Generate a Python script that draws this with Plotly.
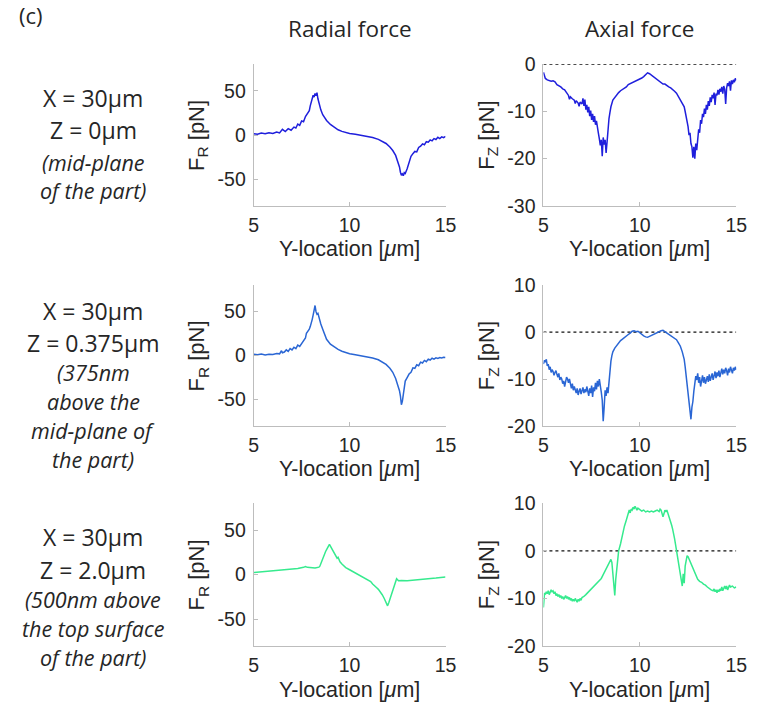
import plotly.graph_objects as go

# ---------------------------------------------------------------------------
# Data: force profiles along the Y direction (Y in um, force in pN)
# ---------------------------------------------------------------------------
y_range = [5, 15]
y_ticks = [5, 10, 15]

radial_z0 = [
    (5.0, 1.5), (5.2, 1.0), (5.4, 2.2), (5.6, 1.4), (5.8, 2.6), (6.0, 1.8), (6.2, 3.5),
    (6.35, 2.4), (6.5, 6.5), (6.65, 4.0), (6.8, 7.2), (6.95, 5.5), (7.1, 9.0), (7.2, 8.0),
    (7.3, 12.5), (7.4, 11.0), (7.5, 16.0), (7.6, 15.0), (7.7, 21.0), (7.8, 24.0), (7.9, 27.5),
    (7.95, 33.0), (8.0, 38.0), (8.05, 43.5), (8.1, 45.0), (8.15, 43.0), (8.2, 47.0),
    (8.25, 44.5), (8.3, 48.0), (8.35, 41.0), (8.4, 36.0), (8.5, 28.5), (8.6, 23.0),
    (8.7, 19.5), (8.8, 16.5), (9.0, 12.0), (9.2, 8.5), (9.4, 6.0), (9.6, 4.2), (9.8, 2.8),
    (10.0, 1.8), (10.3, 0.8), (10.6, -0.3), (10.9, -1.4), (11.2, -2.8), (11.5, -4.8),
    (11.7, -6.8), (11.9, -9.5), (12.1, -13.5), (12.25, -17.5), (12.4, -23.0), (12.5, -29.0),
    (12.6, -36.0), (12.65, -42.0), (12.7, -45.5), (12.75, -44.0), (12.8, -46.0),
    (12.85, -42.5), (12.9, -43.5), (13.0, -38.0), (13.1, -31.0), (13.2, -24.0), (13.3, -21.0),
    (13.4, -18.5), (13.5, -19.0), (13.6, -14.0), (13.7, -12.5), (13.8, -10.0), (13.9, -11.0),
    (14.0, -7.5), (14.1, -8.0), (14.2, -5.5), (14.3, -6.5), (14.4, -4.0), (14.5, -5.0),
    (14.6, -2.5), (14.7, -4.0), (14.8, -2.0), (14.9, -3.0), (15.0, -1.5),
]

axial_z0 = [
    (5.0, -1.7), (5.05, -2.4), (5.1, -3.0), (5.2, -3.3), (5.3, -3.4), (5.4, -3.6), (5.5, -3.5),
    (5.6, -3.7), (5.7, -4.3), (5.8, -4.5), (5.9, -4.8), (6.0, -5.2), (6.1, -5.4), (6.2, -6.0),
    (6.3, -6.6), (6.35, -7.4), (6.4, -6.9), (6.5, -7.3), (6.6, -7.6), (6.65, -8.3), (6.7, -7.7),
    (6.8, -8.2), (6.85, -8.9), (6.9, -8.0), (7.0, -8.4), (7.05, -7.2), (7.1, -8.8), (7.15, -7.5),
    (7.2, -9.6), (7.25, -8.6), (7.3, -10.2), (7.35, -9.0), (7.4, -11.0), (7.45, -9.8),
    (7.5, -11.8), (7.55, -10.5), (7.6, -12.2), (7.65, -11.0), (7.7, -12.8), (7.75, -12.0),
    (7.8, -13.8), (7.85, -14.6), (7.9, -15.8), (7.95, -17.2), (8.0, -16.0), (8.05, -19.5),
    (8.1, -15.5), (8.15, -17.0), (8.2, -16.0), (8.25, -18.8), (8.3, -16.5), (8.35, -13.0),
    (8.4, -11.5), (8.45, -10.2), (8.5, -9.0), (8.6, -7.6), (8.7, -7.0), (8.8, -6.6), (8.9, -6.0),
    (9.0, -5.6), (9.1, -5.3), (9.2, -5.0), (9.3, -4.8), (9.4, -4.3), (9.5, -4.1), (9.6, -4.0),
    (9.7, -3.8), (9.8, -3.6), (9.9, -3.4), (10.0, -3.2), (10.1, -2.9), (10.2, -2.6),
    (10.3, -2.2), (10.4, -1.8), (10.5, -2.0), (10.6, -2.3), (10.7, -2.7), (10.8, -3.0),
    (10.9, -3.3), (11.0, -3.5), (11.1, -3.9), (11.2, -4.2), (11.3, -4.2), (11.4, -4.6),
    (11.5, -4.8), (11.6, -5.0), (11.7, -5.3), (11.8, -5.7), (11.9, -6.1), (12.0, -6.8),
    (12.1, -7.4), (12.2, -8.2), (12.3, -9.0), (12.35, -10.0), (12.4, -11.0), (12.45, -12.5),
    (12.5, -13.2), (12.55, -15.0), (12.6, -14.5), (12.65, -16.8), (12.7, -17.5),
    (12.75, -19.8), (12.8, -17.5), (12.85, -20.0), (12.9, -16.8), (12.95, -18.2),
    (13.0, -15.0), (13.05, -13.8), (13.1, -14.5), (13.15, -11.8), (13.2, -12.6),
    (13.25, -10.5), (13.3, -11.2), (13.35, -9.4), (13.4, -10.5), (13.45, -8.6), (13.5, -9.6),
    (13.55, -7.8), (13.6, -8.8), (13.65, -7.0), (13.7, -8.0), (13.75, -6.5), (13.8, -7.2),
    (13.85, -6.0), (13.9, -8.6), (13.95, -6.2), (14.0, -6.6), (14.05, -5.4), (14.1, -6.4),
    (14.15, -5.2), (14.2, -5.8), (14.25, -4.8), (14.3, -6.2), (14.35, -4.6), (14.4, -5.3),
    (14.45, -8.4), (14.5, -5.0), (14.55, -4.0), (14.6, -4.6), (14.65, -3.6), (14.7, -5.6),
    (14.75, -3.4), (14.8, -4.2), (14.85, -3.3), (14.9, -3.8), (14.95, -3.0), (15.0, -3.4),
]

radial_z0375 = [
    (5.0, 1.5), (5.2, 1.0), (5.4, 1.8), (5.6, 0.8), (5.8, 1.6), (6.0, 1.2), (6.2, 2.4),
    (6.35, 2.0), (6.45, 5.5), (6.5, 3.2), (6.6, 4.0), (6.7, 6.5), (6.8, 4.8), (6.9, 8.0),
    (7.0, 6.5), (7.1, 9.5), (7.2, 8.0), (7.3, 12.0), (7.4, 10.5), (7.5, 14.0), (7.6, 17.5),
    (7.7, 20.0), (7.75, 25.5), (7.8, 27.0), (7.85, 29.0), (7.9, 30.0), (7.95, 33.0),
    (8.0, 36.0), (8.05, 41.0), (8.1, 46.0), (8.15, 52.0), (8.2, 57.0), (8.25, 50.0),
    (8.3, 47.0), (8.35, 48.0), (8.4, 43.0), (8.5, 36.0), (8.6, 30.0), (8.7, 24.0),
    (8.8, 18.5), (9.0, 13.0), (9.2, 9.5), (9.4, 7.0), (9.6, 5.0), (9.8, 3.4), (10.0, 2.2),
    (10.3, 1.0), (10.6, -0.2), (10.9, -1.4), (11.2, -2.8), (11.5, -4.8), (11.7, -7.2),
    (11.9, -10.0), (12.1, -14.5), (12.25, -19.0), (12.4, -26.0), (12.5, -32.0), (12.6, -40.0),
    (12.65, -46.0), (12.7, -56.0), (12.75, -52.0), (12.8, -44.0), (12.85, -36.0),
    (12.9, -29.0), (13.0, -25.0), (13.1, -21.0), (13.2, -19.0), (13.3, -14.0), (13.4, -14.5),
    (13.5, -10.5), (13.6, -11.5), (13.7, -7.5), (13.8, -8.5), (13.9, -5.5), (14.0, -7.0),
    (14.1, -4.0), (14.2, -5.0), (14.3, -3.0), (14.4, -4.0), (14.5, -2.5), (14.6, -3.2),
    (14.7, -2.2), (14.8, -2.8), (14.9, -2.0), (15.0, -2.3),
]

axial_z0375 = [
    (5.0, -6.8), (5.05, -6.0), (5.1, -6.4), (5.15, -5.8), (5.2, -7.2), (5.25, -6.8), (5.3, -8.0),
    (5.35, -7.4), (5.4, -8.6), (5.45, -8.0), (5.5, -8.4), (5.55, -9.2), (5.6, -8.6), (5.65, -8.2),
    (5.7, -9.0), (5.75, -9.6), (5.8, -8.8), (5.85, -10.2), (5.9, -9.6), (5.95, -10.0),
    (6.0, -11.0), (6.05, -10.4), (6.1, -11.6), (6.15, -10.2), (6.2, -9.6), (6.25, -10.0),
    (6.3, -10.8), (6.35, -10.0), (6.4, -11.2), (6.45, -12.0), (6.5, -11.0), (6.55, -12.4),
    (6.6, -11.6), (6.65, -12.2), (6.7, -13.0), (6.75, -12.0), (6.8, -13.4), (6.85, -12.6),
    (6.9, -12.0), (6.95, -13.2), (7.0, -12.4), (7.05, -11.8), (7.1, -13.0), (7.15, -12.2),
    (7.2, -12.8), (7.25, -11.6), (7.3, -12.6), (7.35, -13.6), (7.4, -12.0), (7.45, -13.0),
    (7.5, -11.4), (7.55, -13.8), (7.6, -11.8), (7.65, -12.6), (7.7, -10.8), (7.75, -12.2),
    (7.8, -10.4), (7.85, -11.6), (7.9, -10.0), (7.95, -11.0), (8.0, -12.8), (8.05, -14.5),
    (8.1, -19.0), (8.15, -16.0), (8.2, -12.4), (8.25, -13.6), (8.3, -11.8), (8.35, -13.0),
    (8.4, -10.5), (8.45, -8.0), (8.5, -6.2), (8.55, -5.0), (8.6, -4.2), (8.7, -3.4),
    (8.8, -2.8), (8.9, -2.2), (9.0, -1.8), (9.1, -1.5), (9.2, -1.1), (9.3, -0.9), (9.4, -0.5),
    (9.5, -0.2), (9.6, 0.2), (9.7, 0.3), (9.8, 0.1), (9.9, 0.2), (10.0, -0.2), (10.1, -0.5),
    (10.2, -0.8), (10.3, -1.0), (10.4, -1.1), (10.5, -0.9), (10.6, -0.7), (10.7, -0.4),
    (10.8, -0.2), (10.9, 0.0), (11.0, 0.2), (11.1, 0.3), (11.2, 0.4), (11.3, 0.1), (11.4, -0.2),
    (11.5, -0.3), (11.6, -0.6), (11.7, -0.9), (11.8, -1.2), (11.9, -1.6), (12.0, -2.3),
    (12.1, -3.0), (12.2, -4.2), (12.3, -5.8), (12.35, -7.4), (12.4, -9.2), (12.45, -11.2),
    (12.5, -13.0), (12.55, -15.5), (12.6, -17.0), (12.65, -18.6), (12.7, -16.0),
    (12.75, -14.8), (12.8, -12.6), (12.85, -10.6), (12.9, -9.4), (12.95, -10.2), (13.0, -8.8),
    (13.05, -10.8), (13.1, -9.6), (13.15, -11.6), (13.2, -10.4), (13.25, -9.2), (13.3, -10.8),
    (13.35, -9.6), (13.4, -11.0), (13.45, -10.0), (13.5, -9.4), (13.55, -10.6), (13.6, -9.0),
    (13.65, -10.4), (13.7, -9.6), (13.75, -8.8), (13.8, -10.2), (13.85, -9.2), (13.9, -8.4),
    (13.95, -9.8), (14.0, -8.6), (14.05, -9.4), (14.1, -8.2), (14.15, -9.6), (14.2, -8.4),
    (14.25, -7.8), (14.3, -9.0), (14.35, -8.0), (14.4, -8.8), (14.45, -7.6), (14.5, -8.2),
    (14.55, -9.2), (14.6, -7.8), (14.65, -8.6), (14.7, -7.4), (14.75, -8.0), (14.8, -8.8),
    (14.85, -7.6), (14.9, -8.2), (14.95, -7.4), (15.0, -8.0),
]

radial_z2 = [
    (5.0, 2.5), (5.5, 3.3), (6.0, 4.2), (6.5, 5.0), (7.0, 6.0), (7.3, 6.8), (7.6, 8.2),
    (7.7, 9.0), (7.8, 8.2), (8.0, 7.6), (8.2, 7.4), (8.4, 8.4), (8.45, 9.5), (8.55, 15.0),
    (8.65, 21.0), (8.75, 26.0), (8.85, 30.0), (8.95, 34.0), (9.0, 32.0), (9.1, 28.0),
    (9.2, 24.0), (9.3, 20.0), (9.35, 18.5), (9.4, 19.5), (9.45, 15.5), (9.5, 14.5),
    (9.6, 12.0), (9.7, 9.5), (9.8, 8.0), (10.0, 5.5), (10.2, 3.0), (10.4, 1.0), (10.6, -1.5),
    (10.8, -4.0), (11.0, -6.5), (11.1, -7.8), (11.2, -10.5), (11.3, -12.0), (11.4, -14.5),
    (11.5, -16.5), (11.6, -19.0), (11.7, -22.5), (11.8, -26.5), (11.9, -31.0), (11.98, -35.0),
    (12.05, -31.0), (12.15, -24.0), (12.25, -16.0), (12.35, -9.0), (12.45, -4.5),
    (12.55, -6.8), (12.7, -6.5), (13.0, -6.8), (13.5, -6.0), (14.0, -5.0), (14.5, -3.8),
    (15.0, -2.5),
]

axial_z2 = [
    (5.0, -11.9), (5.03, -9.6), (5.06, -8.8), (5.1, -9.2), (5.15, -8.6), (5.2, -9.0),
    (5.25, -8.4), (5.3, -9.2), (5.35, -8.8), (5.4, -8.2), (5.45, -8.6), (5.5, -8.4),
    (5.55, -9.0), (5.6, -8.6), (5.65, -9.4), (5.7, -9.0), (5.75, -9.6), (5.8, -9.2),
    (5.85, -9.8), (5.9, -9.4), (5.95, -10.0), (6.0, -9.6), (6.05, -10.2), (6.1, -9.6),
    (6.15, -9.4), (6.2, -10.0), (6.25, -9.6), (6.3, -10.2), (6.35, -9.8), (6.4, -10.4),
    (6.45, -10.0), (6.5, -10.6), (6.55, -10.2), (6.6, -10.6), (6.65, -10.0), (6.7, -10.4),
    (6.75, -10.8), (6.8, -10.2), (6.85, -10.6), (6.9, -10.0), (6.95, -10.4), (7.0, -9.8),
    (7.1, -9.6), (7.2, -9.2), (7.3, -8.8), (7.4, -8.4), (7.5, -8.0), (7.6, -7.6), (7.7, -7.2),
    (7.8, -6.8), (7.9, -6.4), (8.0, -5.8), (8.1, -5.0), (8.2, -4.2), (8.3, -3.2), (8.4, -2.4),
    (8.5, -1.8), (8.55, -2.4), (8.6, -4.5), (8.65, -6.5), (8.7, -9.4), (8.75, -6.0),
    (8.8, -3.5), (8.85, -1.5), (8.9, 0.0), (9.0, 1.5), (9.1, 3.5), (9.2, 5.2), (9.3, 6.5),
    (9.4, 7.8), (9.45, 8.6), (9.5, 8.0), (9.55, 8.8), (9.6, 8.6), (9.65, 9.2), (9.7, 8.8),
    (9.75, 9.4), (9.8, 9.0), (9.85, 8.6), (9.9, 9.0), (10.0, 8.6), (10.1, 8.4), (10.2, 8.6),
    (10.3, 8.2), (10.4, 8.4), (10.5, 8.2), (10.6, 8.4), (10.7, 8.2), (10.8, 8.4), (10.9, 8.6),
    (11.0, 8.3), (11.05, 8.8), (11.1, 8.6), (11.15, 8.0), (11.2, 7.2), (11.25, 7.8),
    (11.3, 8.6), (11.35, 8.2), (11.4, 8.6), (11.45, 8.0), (11.5, 7.4), (11.55, 7.0),
    (11.6, 6.2), (11.65, 5.4), (11.7, 4.6), (11.75, 3.8), (11.8, 2.6), (11.85, 1.4),
    (11.9, 0.2), (11.95, -1.0), (12.0, -2.6), (12.05, -3.6), (12.1, -4.6), (12.15, -6.2),
    (12.2, -7.4), (12.25, -4.8), (12.3, -6.8), (12.35, -3.2), (12.4, -1.6), (12.45, -1.0),
    (12.5, -1.2), (12.6, -2.2), (12.7, -3.0), (12.8, -4.2), (12.9, -5.4), (13.0, -6.0),
    (13.1, -6.4), (13.2, -6.6), (13.3, -7.0), (13.4, -7.2), (13.5, -7.6), (13.6, -8.0),
    (13.7, -8.2), (13.8, -8.4), (13.85, -8.0), (13.9, -8.6), (13.95, -8.2), (14.0, -8.8),
    (14.05, -8.2), (14.1, -8.6), (14.15, -8.0), (14.2, -8.4), (14.25, -7.6), (14.3, -8.4),
    (14.35, -7.8), (14.4, -7.4), (14.45, -8.0), (14.5, -7.4), (14.55, -8.2), (14.6, -7.8),
    (14.65, -7.2), (14.7, -7.6), (14.8, -7.4), (14.9, -7.8), (15.0, -7.6),
]

radial_range = [-80, 80]
radial_ticks = [-50, 0, 50]
axial_ranges = [[-30, 0], [-20, 10], [-20, 10]]
axial_ticks = [[-30, -20, -10, 0], [-20, -10, 0, 10], [-20, -10, 0, 10]]
zero_level = 0

column_titles = ["Radial force", "Axial force"]
row_colors = ["#1f1fdc", "#2a66d4", "#36ea8e"]
row_labels = [
    ["X = 30\u03bcm", "Z = 0\u03bcm", "<i>(mid-plane</i>", "<i>of the part)</i>"],
    ["X = 30\u03bcm", "Z = 0.375\u03bcm", "<i>(375nm</i>", "<i>above the</i>",
     "<i>mid-plane of</i>", "<i>the part)</i>"],
    ["X = 30\u03bcm", "Z = 2.0\u03bcm", "<i>(500nm above</i>", "<i>the top surface</i>",
     "<i>of the part)</i>"],
]
panel_label = "(c)"

radial_rows = [radial_z0, radial_z0375, radial_z2]
axial_rows = [axial_z0, axial_z0375, axial_z2]

# ---------------------------------------------------------------------------
# Layout geometry (pixels in a 760 x 717 canvas)
# ---------------------------------------------------------------------------
W, H = 760, 717
col_px = [(254, 450), (550, 747)]
row_px = [(55, 201), (283, 428), (508, 655)]
label_line_y = [[90, 123, 156, 185],
                [309, 342, 373, 403, 433, 463],
                [543, 577, 607, 637, 667]]


def fx(px):
    return px / W


def fy(py):
    return 1 - py / H


AXIS_FONT = "Liberation Sans, Arial, sans-serif"
TEXT_FONT = "Open Sans, Lato, sans-serif"
INK = "#262626"
AXIS_GRAY = "#bdbdbd"

fig = go.Figure()
layout = dict(
    width=W, height=H, margin=dict(l=0, r=0, t=0, b=0),
    paper_bgcolor="white", plot_bgcolor="white", showlegend=False,
)
annotations = []

common_axis = dict(
    showline=True, linecolor=AXIS_GRAY, linewidth=1, mirror=False,
    ticks="inside", ticklen=4, tickcolor=AXIS_GRAY, tickwidth=1,
    showgrid=False, zeroline=False, tickmode="array",
    tickfont=dict(family=AXIS_FONT, size=19.5, color=INK),
)

idx = 0
for r in range(3):
    for c in range(2):
        idx += 1
        xa = "xaxis" if idx == 1 else f"xaxis{idx}"
        ya = "yaxis" if idx == 1 else f"yaxis{idx}"
        xref = "x" if idx == 1 else f"x{idx}"
        yref = "y" if idx == 1 else f"y{idx}"
        x0, x1 = col_px[c]
        t0, t1 = row_px[r]

        if c == 0:
            yr, yt, ytitle = radial_range, radial_ticks, "F<sub>R</sub> [pN]"
            data = radial_rows[r]
        else:
            yr, yt, ytitle = axial_ranges[r], axial_ticks[r], "F<sub>Z</sub> [pN]"
            data = axial_rows[r]

        layout[xa] = dict(common_axis, domain=[fx(x0), fx(x1)], range=y_range,
                          tickvals=y_ticks, ticktext=[str(v) for v in y_ticks],
                          anchor=yref, ticklabelstandoff=2)
        layout[ya] = dict(common_axis, domain=[fy(t1), fy(t0)], range=yr,
                          tickvals=yt, ticktext=[str(v) for v in yt],
                          anchor=xref, ticklabelstandoff=3)

        if c == 1:
            fig.add_trace(go.Scatter(
                x=y_range, y=[zero_level, zero_level], mode="lines",
                line=dict(color="#111111", width=1.3, dash="3px,3px"),
                xaxis=xref, yaxis=yref, cliponaxis=False, hoverinfo="skip"))

        fig.add_trace(go.Scatter(
            x=[p[0] for p in data], y=[p[1] for p in data], mode="lines",
            line=dict(color=row_colors[r], width=1.5),
            xaxis=xref, yaxis=yref, cliponaxis=False))

        # axis titles
        annotations.append(dict(
            text="Y-location [<i>\u03bc</i>m]", xref="paper", yref="paper",
            x=fx((x0 + x1) / 2), y=fy(t1 + 45), showarrow=False,
            xanchor="center", yanchor="middle",
            font=dict(family=AXIS_FONT, size=21.5, color=INK)))
        annotations.append(dict(
            text=ytitle, xref="paper", yref="paper",
            x=fx(x0 - 57), y=fy((t0 + t1) / 2), showarrow=False, textangle=-90,
            xanchor="center", yanchor="middle",
            font=dict(family=AXIS_FONT, size=22, color=INK)))

# column headers
for c, title in enumerate(column_titles):
    x0, x1 = col_px[c]
    annotations.append(dict(
        text=title, xref="paper", yref="paper", x=fx((x0 + x1) / 2), y=fy(18),
        showarrow=False, xanchor="center", yanchor="middle",
        font=dict(family=TEXT_FONT, size=22.5, color=INK)))

# row descriptions
for r, lines in enumerate(row_labels):
    for line, py in zip(lines, label_line_y[r]):
        italic = line.startswith("<i>")
        annotations.append(dict(
            text=line, xref="paper", yref="paper", x=fx(90), y=fy(py),
            showarrow=False, xanchor="center", yanchor="middle",
            font=dict(family=TEXT_FONT, size=21.5 if italic else 23, color=INK)))

annotations.append(dict(
    text=panel_label, xref="paper", yref="paper", x=fx(12), y=fy(4),
    showarrow=False, xanchor="left", yanchor="middle",
    font=dict(family=TEXT_FONT, size=22, color=INK)))

layout["annotations"] = annotations
fig.update_layout(**layout)
fig.write_html("out.html")
